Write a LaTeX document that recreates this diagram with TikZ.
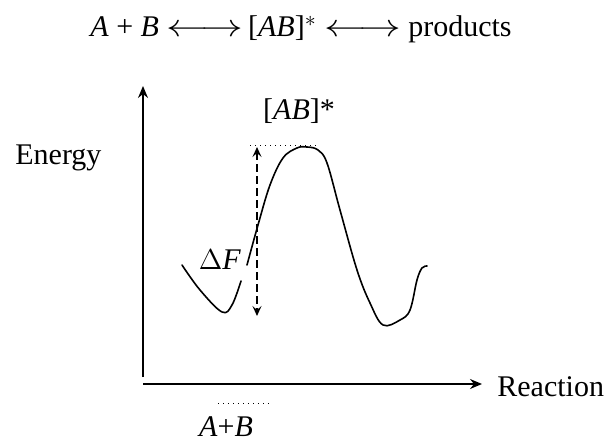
\documentclass[tikz,border=0pt]{standalone}
\usepackage{fontspec}
\setmainfont{Liberation Serif}
\usetikzlibrary{arrows.meta}
\begin{document}
\begin{tikzpicture}[x=0.5pt,y=-0.5pt,
  lbl/.style={inner sep=0pt,font=\fontsize{15}{18}\selectfont},
  axis/.style={line width=0.7pt,-{Stealth[length=6pt,width=5pt,inset=2pt]}},
  curve/.style={line width=0.8pt,line join=round,line cap=round},
  dotline/.style={line width=0.5pt,dotted},
  dashline/.style={line width=0.7pt,dash pattern=on 4pt off 2pt,{Stealth[length=5pt,width=4.5pt,inset=2pt]}-{Stealth[length=5pt,width=4.5pt,inset=2pt]}}]
\useasboundingbox (0,0) rectangle (606,444);
% equation
\node[lbl,anchor=base west] (eq) at (90,37) {\textit{A} + \textit{B} \scalebox{1.45}[1.1]{$\longleftrightarrow$}\,[\textit{AB}]$^{*}$ \scalebox{1.45}[1.1]{$\longleftrightarrow$} products};
% axes
\coordinate (yb) at (143,377);
\coordinate (yt) at (143,86);
\coordinate (xl) at (143,384);
\coordinate (xr) at (482,384);
\draw[axis] (yb) -- (yt);
\draw[axis] (xl) -- (xr);
\node[lbl,anchor=base west] (energy) at (15,165) {Energy};
\node[lbl,anchor=base west] (reaction) at (497,396) {Reaction};
% curve
\draw[curve] plot[smooth,tension=0.6] coordinates {(182,265) (200,290) (222,312) (232,305) (241,281)};
\draw[curve] plot[smooth,tension=0.6] coordinates {(247,265) (258,225) (270,185) (283,158) (297,148) (307,147) (318,150) (327,163) (340,210) (357,270) (370,303) (383,325) (400,320) (410,310) (417,280) (422,268) (427,266)};
% transition state level
\coordinate (tl) at (250,146);
\coordinate (tr) at (318,146);
\draw[dotline] (tl) -- (tr);
\coordinate (da) at (257,147);
\coordinate (db) at (257,316);
\draw[dashline] (da) -- (db);
\node[lbl,anchor=base] (ts) at (299,120) {[\textit{AB}]*};
\node[lbl,anchor=base] (dF) at (220,270) {$\Delta$\textit{F}};
% reactant level
\coordinate (rl) at (218,403);
\coordinate (rr) at (270,403);
\draw[dotline] (rl) -- (rr);
\node[lbl,anchor=base] (ab) at (226,437) {\textit{A}+\textit{B}};
\end{tikzpicture}
\end{document}
